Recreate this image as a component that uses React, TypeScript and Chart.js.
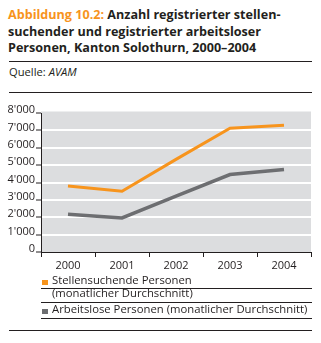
import React, { useEffect, useRef } from "react";
import { Chart, registerables } from "chart.js";
Chart.register(...registerables);

const years = ["2000", "2001", "2002", "2003", "2004"];
const stellensuchende = [3800, 3500, 5330, 7120, 7300];
const arbeitslose = [2170, 1960, 3210, 4460, 4750];
const yMin = 0;
const yMax = 8000;
const yStep = 1000;
const seriesLabels = ["Stellensuchende Personen (monatlicher Durchschnitt)", "Arbeitslose Personen (monatlicher Durchschnitt)"];

const ORANGE = "#F7941D";
const GREY = "#6D6E71";
const BG = "#DCDDDF";
const INK = "#231F20";
const FONT = "'Open Sans', 'Noto Sans', sans-serif";

const bgPlugin = {
  id: "plotBg",
  beforeDraw(chart: any) {
    const { ctx, chartArea } = chart;
    ctx.save();
    ctx.fillStyle = BG;
    ctx.fillRect(chartArea.left, chartArea.top - 1.5, chartArea.right - chartArea.left, chartArea.bottom - chartArea.top + 1.5);
    ctx.restore();
  },
};

function fmt(v: number) {
  if (v === 0) return "0";
  return `${Math.floor(v / 1000)}'000`;
}

function ChartBox() {
  const ref = useRef<HTMLCanvasElement>(null);
  useEffect(() => {
    const chart = new Chart(ref.current!, {
      type: "line",
      data: {
        labels: years,
        datasets: [
          { label: seriesLabels[0], data: stellensuchende, borderColor: ORANGE, borderWidth: 3, pointRadius: 0, tension: 0, borderCapStyle: "butt" },
          { label: seriesLabels[1], data: arbeitslose, borderColor: GREY, borderWidth: 3.5, pointRadius: 0, tension: 0, borderCapStyle: "butt" },
        ],
      },
      options: {
        animation: false,
        responsive: false,
        maintainAspectRatio: false,
        layout: { padding: { top: 18, right: 10, left: 0, bottom: 0 } },
        plugins: { legend: { display: false }, tooltip: { enabled: false } },
        scales: {
          x: {
            offset: true,
            grid: { offset: true, drawOnChartArea: false, tickLength: 5, tickColor: INK, tickWidth: 1 },
            border: { display: true, color: INK, width: 1 },
            ticks: { color: INK, font: { family: FONT, size: 11 }, padding: 2, maxRotation: 0 },
            afterFit: (s: any) => { s.height = 23; },
          },
          y: {
            min: yMin,
            max: yMax,
            ticks: { stepSize: yStep, color: INK, font: { family: FONT, size: 11 }, padding: 1, labelOffset: -3, callback: (v: any) => fmt(Number(v)) },
            grid: {
              color: (c: any) => (c.tick && (c.tick.value === yMin || c.tick.value === yMax) ? "rgba(0,0,0,0)" : "#FFFFFF"),
              lineWidth: 2,
              tickLength: 5,
              tickColor: INK,
              tickWidth: 1,
            },
            border: { display: true, color: INK, width: 1 },
            afterFit: (s: any) => { s.width = 41; },
          },
        },
      },
      plugins: [bgPlugin],
    } as any);
    return () => chart.destroy();
  }, []);
  return <canvas ref={ref} width={321} height={180} style={{ position: "absolute", left: 0, top: 95, width: 321, height: 180 }} />;
}

const hr = (top: number, left: number, right: number) => (
  <div style={{ position: "absolute", top, left, width: right - left, height: 1, background: INK }} />
);

const legendText = { position: "absolute" as const, left: 52, fontSize: 11.3, lineHeight: "14px", whiteSpace: "nowrap" as const };

export default function App() {
  return (
    <div style={{ position: "fixed", left: 0, top: 0, width: 321, height: 343, background: "#fff", fontFamily: FONT, color: INK, overflow: "hidden" }}>
      <div style={{ position: "absolute", left: 8, top: 6.8, width: 313, fontSize: 12.6, lineHeight: "16.7px", fontWeight: 700, whiteSpace: "nowrap" }}>
        <span style={{ color: ORANGE }}>Abbildung 10.2:</span> Anzahl registrierter stellen-
        <br />suchender und registrierter arbeitsloser
        <br />Personen, Kanton Solothurn, 2000–2004
      </div>
      {hr(61, 9, 312)}
      <div style={{ position: "absolute", left: 9, top: 65.5, fontSize: 11.2, lineHeight: "12px" }}>
        Quelle: <i>AVAM</i>
      </div>
      {hr(92, 9, 312)}
      <ChartBox />
      <div style={{ position: "absolute", left: 42, top: 280.3, width: 6, height: 5, background: ORANGE }} />
      <div style={{ ...legendText, top: 273.4 }}>Stellensuchende Personen</div>
      {hr(288, 41, 312)}
      <div style={{ ...legendText, top: 285.8 }}>(monatlicher Durchschnitt)</div>
      {hr(302, 41, 312)}
      <div style={{ position: "absolute", left: 42, top: 308.7, width: 6, height: 5.3, background: GREY }} />
      <div style={{ ...legendText, top: 302.4 }}>Arbeitslose Personen (monatlicher Durchschnitt)</div>
      {hr(318, 41, 312)}
      {hr(330, 9, 312)}
    </div>
  );
}
